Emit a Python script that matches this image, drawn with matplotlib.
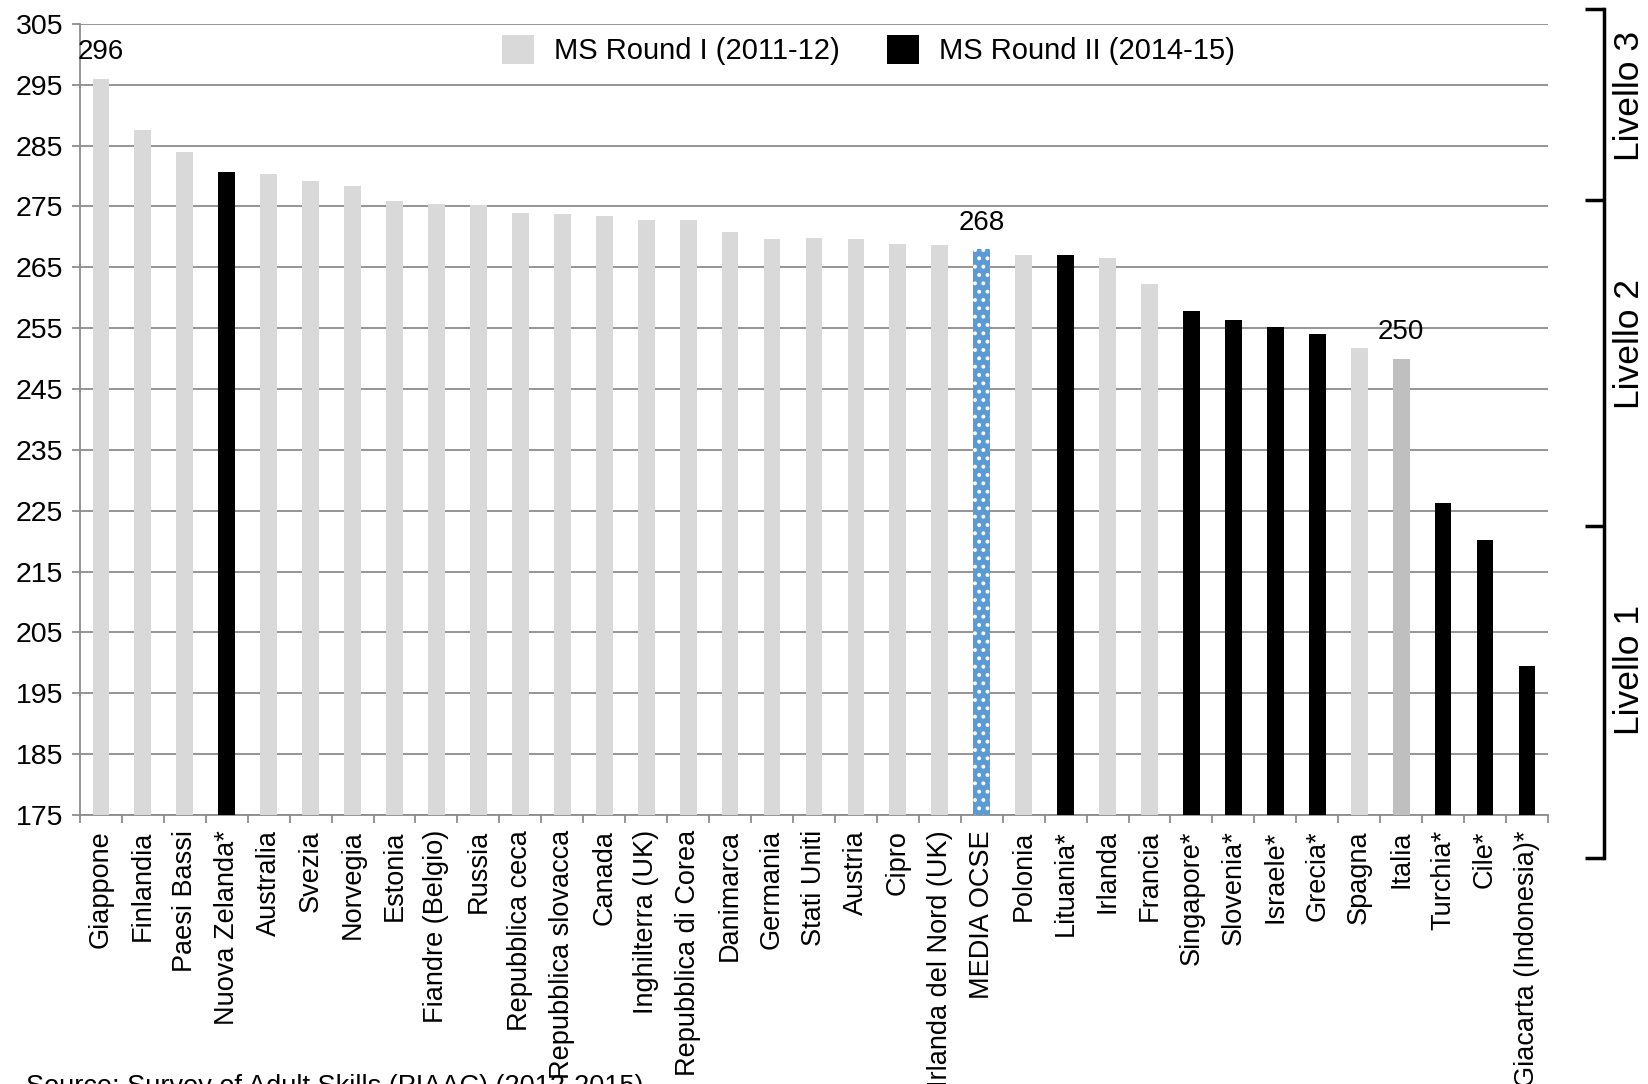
import matplotlib.pyplot as plt
import matplotlib.transforms as mtransforms
from matplotlib.patches import Patch
from matplotlib import font_manager

countries = ["Giappone", "Finlandia", "Paesi Bassi", "Nuova Zelanda*", "Australia",
             "Svezia", "Norvegia", "Estonia", "Fiandre (Belgio)", "Russia",
             "Repubblica ceca", "Repubblica slovacca", "Canada", "Inghilterra (UK)",
             "Repubblica di Corea", "Danimarca", "Germania", "Stati Uniti", "Austria",
             "Cipro", "Irlanda del Nord (UK)", "MEDIA OCSE", "Polonia", "Lituania*",
             "Irlanda", "Francia", "Singapore*", "Slovenia*", "Israele*", "Grecia*",
             "Spagna", "Italia", "Turchia*", "Cile*", "Giacarta (Indonesia)*"]
scores = [296, 287.6, 284.0, 280.7, 280.4,
          279.2, 278.4, 275.9, 275.4, 275.2,
          273.9, 273.7, 273.4, 272.7,
          272.7, 270.8, 269.7, 269.9, 269.6,
          268.9, 268.7, 268, 267.0, 267.0,
          266.6, 262.3, 257.8, 256.4, 255.2, 254.0,
          251.7, 250, 226.3, 220.2, 199.5]
# "I" = MS Round I, "II" = MS Round II, "avg" = media OCSE, "ita" = Italia
rounds = ["I", "I", "I", "II", "I",
          "I", "I", "I", "I", "I",
          "I", "I", "I", "I",
          "I", "I", "I", "I", "I",
          "I", "I", "avg", "I", "II",
          "I", "I", "II", "II", "II", "II",
          "I", "ita", "II", "II", "II"]
labelled = ["Giappone", "MEDIA OCSE", "Italia"]
legend_labels = ["MS Round I (2011-12)", "MS Round II (2014-15)"]
levels = ["Livello 3", "Livello 2", "Livello 1"]

colors = {"I": "#d9d9d9", "II": "#000000", "avg": "#5b9bd5", "ita": "#bfbfbf"}

installed = {f.name for f in font_manager.fontManager.ttflist}
plt.rcParams['font.family'] = ['Liberation Sans', 'DejaVu Sans']
plt.rcParams['hatch.color'] = 'white'
plt.rcParams['hatch.linewidth'] = 1.6
narrow = 'Liberation Sans Narrow' if 'Liberation Sans Narrow' in installed else 'Liberation Sans'

fig = plt.figure(figsize=(16.48, 10.84), dpi=100)
ax = fig.add_axes([0.0485, 0.2482, 0.8908, 0.7297])

x = list(range(len(countries)))
for i, (c, v, r) in enumerate(zip(countries, scores, rounds)):
    ax.bar(i, v - 175, bottom=175, width=0.40, color=colors[r],
           hatch='..' if r == "avg" else None, linewidth=0, zorder=3)
    if c in labelled:
        ax.annotate(f"{v:.0f}", (i, v), xytext=(0, 19), textcoords='offset points',
                    ha='center', va='center', fontsize=20)

ax.set_xlim(-0.5, len(countries) - 0.5)
ax.set_ylim(175, 305)
ax.set_yticks(range(175, 306, 10))
ax.set_xticks(x)
ax.set_xticklabels(countries, rotation=90, fontsize=19.5)
ax.set_xticks([i + 0.5 for i in range(-1, len(countries))], minor=True)
ax.tick_params(axis='x', which='major', length=0, pad=11)
ax.tick_params(axis='x', which='minor', length=6, width=1.3, color='#8c8c8c', direction='out')
ax.tick_params(axis='y', length=6, width=1.3, color='#8c8c8c', labelsize=20.5, pad=6)
ax.grid(axis='y', color='#8c8c8c', linewidth=1.3, zorder=0)
for s in ['top', 'right']:
    ax.spines[s].set_visible(False)
for s in ['left', 'bottom']:
    ax.spines[s].set_color('#8c8c8c')
    ax.spines[s].set_linewidth(1.3)

handles = [Patch(facecolor=colors["I"], linewidth=0), Patch(facecolor=colors["II"], linewidth=0)]
ax.legend(handles, legend_labels, loc='center', bbox_to_anchor=(0.537, 0.967), ncol=2,
          frameon=False, prop={'family': narrow, 'size': 21}, handlelength=1.1,
          handleheight=1.15, handletextpad=0.7, columnspacing=1.6)

# bracket for the proficiency levels on the right
tr = mtransforms.blended_transform_factory(fig.transFigure, ax.transData)
xb, xt = 0.9735, 0.9618
ys = [307.5, 276, 222.5, 168]
ax.plot([xb, xb], [ys[0], ys[-1]], color='black', lw=2.5, transform=tr, clip_on=False)
for yv in ys:
    ax.plot([xt, xb], [yv, yv], color='black', lw=2.5, transform=tr, clip_on=False,
            solid_capstyle='butt')
for lab, yc in zip(levels, [293.2, 252.4, 198.8]):
    ax.text(0.9885, yc, lab, rotation=90, ha='center', va='center', fontsize=25.5,
            transform=tr, clip_on=False)

fig.text(0.016, 0.0092, "Source: Survey of Adult Skills (PIAAC) (2012-2015)",
         ha='left', va='top', fontsize=19.5)

fig.savefig("out.png", dpi=100)
